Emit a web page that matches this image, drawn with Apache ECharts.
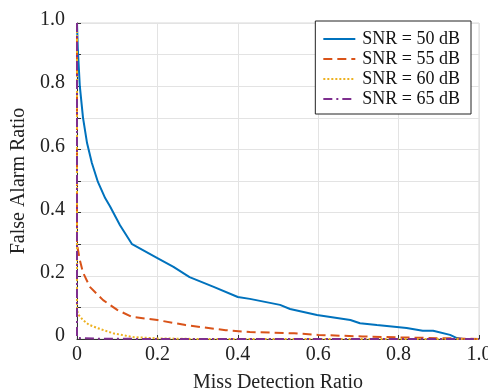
<!DOCTYPE html>
<html><head><meta charset="utf-8">
<script src="https://cdn.jsdelivr.net/npm/echarts@6/dist/echarts.min.js"></script>
<style>html,body{margin:0;padding:0;background:#fff}#c{width:488px;height:392px}</style>
</head><body><div id="c"></div>
<script>
var seriesNames = ['SNR = 50 dB', 'SNR = 55 dB', 'SNR = 60 dB', 'SNR = 65 dB'];
var snr50 = [[0,1],[0.002,0.92],[0.007,0.8],[0.015,0.7],[0.025,0.62],[0.037,0.557],[0.052,0.497],[0.07,0.446],[0.082,0.42],[0.107,0.36],[0.137,0.30],[0.2,0.256],[0.24,0.228],[0.28,0.196],[0.34,0.165],[0.40,0.133],[0.43,0.127],[0.505,0.108],[0.53,0.095],[0.597,0.076],[0.68,0.06],[0.704,0.05],[0.746,0.044],[0.82,0.035],[0.86,0.026],[0.886,0.026],[0.928,0.013],[0.945,0.003],[0.96,0],[1,0]];
var snr55 = [[0,1],[0,0.3],[0.007,0.25],[0.015,0.21],[0.032,0.165],[0.065,0.123],[0.1,0.092],[0.137,0.07],[0.2,0.06],[0.27,0.044],[0.37,0.028],[0.43,0.022],[0.54,0.018],[0.6,0.013],[0.71,0.008],[0.8,0.005],[0.93,0.002],[1,0]];
var snr60 = [[0,1],[0,0.09],[0.005,0.075],[0.015,0.06],[0.03,0.045],[0.05,0.035],[0.09,0.018],[0.14,0.006],[0.2,0.002],[0.3,0],[1,0]];
var snr65 = [[0,1],[0,0.003],[0.05,0.001],[0.2,0],[1,0]];
var colors = ['#0072BD', '#D95319', '#EDB120', '#7E2F8E'];
var dashes = ['solid', [9,5], [2,2], [9,4,2,4]];
var allData = [snr50, snr55, snr60, snr65];

var font = 'Liberation Serif, Times New Roman, serif';
var chart = echarts.init(document.getElementById('c'), null, {renderer:'canvas'});
chart.setOption({
  animation: false,
  backgroundColor: '#fff',
  grid: {left:77, right:9, top:23, bottom:53, show:true, borderColor:'#d9d9d9', borderWidth:1,
         containLabel:false, outerBoundsMode:'none'},
  legend: {
    right: 17, top: 21, orient: 'vertical', itemGap: 2,
    itemWidth: 32, itemHeight: 2,
    padding: [9, 11, 6, 7],
    borderColor: '#222', borderWidth: 1, backgroundColor: '#fff',
    itemStyle: {opacity: 0},
    textStyle: {fontFamily: font, fontSize: 18, color: '#111', padding:[0,0,0,2]},
    data: seriesNames
  },
  xAxis: {
    type: 'value', min: 0, max: 1, interval: 0.2,
    name: 'Miss Detection Ratio', nameLocation: 'middle', nameGap: 34,
    nameTextStyle: {fontFamily: font, fontSize: 20, color: '#222'},
    axisLine: {show: true, lineStyle: {color: '#333', width: 1}},
    axisTick: {show: true, inside: true, length: 4, lineStyle:{color:'#333'}},
    axisLabel: {fontFamily: font, fontSize: 20, color: '#222', margin: 6,
      formatter: function(v){ return v===0 ? '0' : v.toFixed(1); }},
    splitLine: {show: true, lineStyle: {color: '#e3e3e3', width: 1}}
  },
  yAxis: {
    type: 'value', min: 0, max: 1, interval: 0.1,
    name: 'False Alarm Ratio', nameLocation: 'middle', nameGap: 40,
    nameTextStyle: {fontFamily: font, fontSize: 20, color: '#222'},
    axisLine: {show: true, lineStyle: {color: '#333', width: 1}},
    axisTick: {show: true, inside: true, length: 4, lineStyle:{color:'#333'}},
    axisLabel: {fontFamily: font, fontSize: 20, color: '#222', margin: 12,
      rich: {a: {fontFamily: font, fontSize: 20, color: '#222', padding: [0,0,6,0]}},
      formatter: function(v){ var k = Math.round(v*10); if (k%2!==0) return ''; return '{a|' + (k===0 ? '0' : (k/10).toFixed(1)) + '}'; }},
    splitLine: {show: true, lineStyle: {color: '#e3e3e3', width: 1}}
  },
  series: allData.map(function(d, i){
    return {
      name: seriesNames[i], type: 'line', data: d, symbol: 'none',
      itemStyle: {color: colors[i]},
      lineStyle: {color: colors[i], width: 2, type: dashes[i]}
    };
  })
});
</script></body></html>
